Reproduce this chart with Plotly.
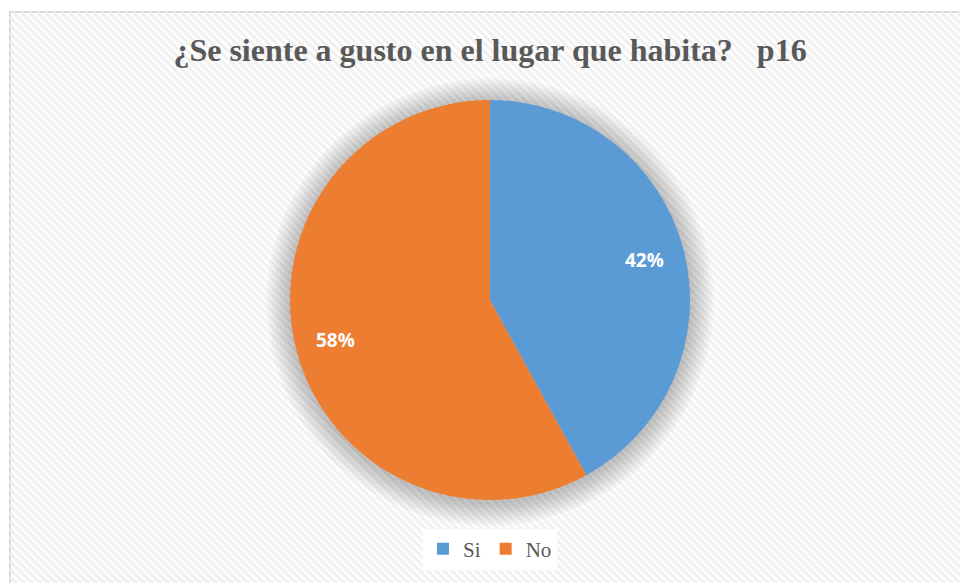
import math
import plotly.graph_objects as go

labels = ["Si", "No"]
values = [42, 58]
colors = ["#5B9BD5", "#ED7D31"]
title_text = "¿Se siente a gusto en el lugar que habita?\u00a0\u00a0\u00a0p16"

W, H = 960, 583

def px(x):
    return x / W

def py(y):
    return 1 - y / H

shapes = []
# frame and white background
FX0, FY0, FX1, FY1 = 10, 12, 962, 585
shapes.append(dict(type="rect", xref="paper", yref="paper", layer="below",
                   x0=px(FX0), x1=px(FX1), y0=py(FY1), y1=py(FY0),
                   line=dict(color="#d9d9d9", width=2), fillcolor="white"))
# diagonal stripes
step = 8
c = FX0 - FY1
while c < FX1 - FY0:
    xa = max(FX0, FY0 + c)
    xb = min(FX1, FY1 + c)
    if xb > xa:
        shapes.append(dict(type="line", xref="paper", yref="paper", layer="below",
                           x0=px(xa), y0=py(xa - c), x1=px(xb), y1=py(xb - c),
                           line=dict(color="#f0f0f0", width=3)))
    c += step

# soft shadow around pie
cx, cy, R = 490, 300, 200
for d in range(24, 0, -2):
    r = R + d
    shapes.append(dict(type="circle", xref="paper", yref="paper", layer="below",
                       x0=px(cx - r), x1=px(cx + r), y0=py(cy + r + 2), y1=py(cy - r + 2),
                       line=dict(width=0), fillcolor="rgba(0,0,0,0.018)"))

fig = go.Figure()
fig.add_trace(go.Pie(
    labels=labels, values=values, sort=False, direction="clockwise", rotation=0,
    marker=dict(colors=colors, line=dict(width=0)),
    textinfo="none",
    domain=dict(x=[px(cx - R), px(cx + R)], y=[py(cy + R), py(cy - R)]),
    hoverinfo="label+percent",
))

# data labels at 0.8 of the radius, at each slice's mid-angle
total = sum(values)
annotations = []
cum = 0
for v in values:
    mid = (cum + v / 2) / total * 2 * math.pi
    cum += v
    lx = cx + 0.8 * R * math.sin(mid)
    ly = cy - 0.8 * R * math.cos(mid)
    annotations.append(dict(x=px(lx), y=py(ly), xref="paper", yref="paper",
                            text=f"{round(v / total * 100)}%", showarrow=False,
                            xanchor="center", yanchor="middle",
                            font=dict(family="Open Sans", size=19, color="white", weight="bold")))

fig.update_layout(
    width=W, height=H,
    margin=dict(l=0, r=0, t=0, b=0),
    paper_bgcolor="white", plot_bgcolor="white",
    shapes=shapes,
    annotations=annotations,
    title=dict(text=title_text, x=px(490), xanchor="center", y=py(50), yanchor="middle",
               font=dict(family="Liberation Serif", size=32, color="#595959", weight="bold")),
    showlegend=True,
    legend=dict(orientation="h", x=0.5104, xanchor="center", y=py(549), yanchor="middle",
                bgcolor="white", font=dict(family="Liberation Serif", size=21, color="#595959"),
                itemwidth=30, tracegroupgap=0),
)

fig.write_html("out.html")
